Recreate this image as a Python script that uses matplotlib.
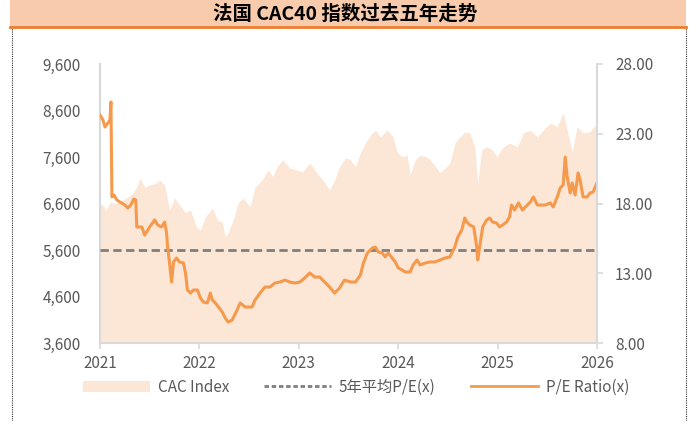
import matplotlib.pyplot as plt
import matplotlib.ticker as mticker
from matplotlib.patches import Rectangle
from matplotlib.lines import Line2D

plt.rcParams['font.family'] = ['Noto Sans CJK SC', 'DejaVu Sans']

# CAC index (left axis), x in decimal years
cac_t = [2021.00, 2021.03, 2021.06, 2021.10, 2021.17, 2021.25, 2021.32, 2021.37, 2021.40,
         2021.45, 2021.50, 2021.55, 2021.60, 2021.65, 2021.70, 2021.75, 2021.80, 2021.86,
         2021.91, 2021.97, 2022.01, 2022.06, 2022.13, 2022.18, 2022.23, 2022.26, 2022.29,
         2022.34, 2022.39, 2022.44, 2022.51, 2022.56, 2022.63, 2022.69, 2022.74, 2022.78,
         2022.84, 2022.91, 2022.98, 2023.04, 2023.11, 2023.18, 2023.24, 2023.31, 2023.36,
         2023.41, 2023.47, 2023.52, 2023.57, 2023.62, 2023.67, 2023.72, 2023.77, 2023.82,
         2023.89, 2023.95, 2023.99, 2024.04, 2024.09, 2024.12, 2024.17, 2024.22, 2024.29,
         2024.35, 2024.42, 2024.47, 2024.52, 2024.57, 2024.62, 2024.67, 2024.72, 2024.77,
         2024.80, 2024.84, 2024.89, 2024.95, 2024.99, 2025.05, 2025.12, 2025.20, 2025.26,
         2025.33, 2025.40, 2025.46, 2025.53, 2025.60, 2025.66, 2025.70, 2025.75, 2025.80,
         2025.86, 2025.93, 2026.00]
cac_v = [6570, 6570, 6450, 6630, 6600, 6700, 6800, 6955, 7150,
         6950, 7000, 7020, 7100, 7000, 6460, 6720, 6570, 6400,
         6460, 6100, 6030, 6310, 6500, 6250, 6200, 5880, 5970,
         6250, 6610, 6720, 6530, 6950, 7100, 7320, 7180, 7390,
         7540, 7360, 7320, 7280, 7470, 7260, 7110, 6890, 7110,
         7390, 7580, 7540, 7390, 7690, 7900, 8070, 8180, 8030,
         8180, 8030, 7710, 7600, 7640, 7210, 7540, 7640, 7600,
         7470, 7260, 7360, 7470, 7900, 8030, 8140, 8120, 7820,
         7040, 7750, 7820, 7750, 7600, 7800, 7900, 7820, 8120,
         8180, 8030, 8180, 8330, 8250, 8550, 8180, 7710, 8250,
         8120, 8140, 8330]

# P/E ratio (right axis)
pe_t = [2021.00, 2021.03, 2021.05, 2021.08, 2021.10, 2021.11, 2021.12, 2021.14, 2021.17,
        2021.20, 2021.25, 2021.28, 2021.31, 2021.34, 2021.36, 2021.37, 2021.42, 2021.45,
        2021.50, 2021.55, 2021.58, 2021.62, 2021.65, 2021.67, 2021.68, 2021.70, 2021.72,
        2021.74, 2021.77, 2021.80, 2021.84, 2021.86, 2021.88, 2021.91, 2021.94, 2021.98,
        2022.01, 2022.04, 2022.08, 2022.11, 2022.13, 2022.16, 2022.20, 2022.23, 2022.26,
        2022.29, 2022.33, 2022.37, 2022.41, 2022.46, 2022.53, 2022.56, 2022.61, 2022.66,
        2022.71, 2022.76, 2022.81, 2022.86, 2022.91, 2022.96, 2023.01, 2023.06, 2023.11,
        2023.16, 2023.21, 2023.26, 2023.31, 2023.36, 2023.41, 2023.46, 2023.52, 2023.57,
        2023.62, 2023.65, 2023.69, 2023.74, 2023.77, 2023.80, 2023.84, 2023.87, 2023.90,
        2023.94, 2023.97, 2024.00, 2024.04, 2024.07, 2024.12, 2024.15, 2024.19, 2024.22,
        2024.27, 2024.32, 2024.37, 2024.42, 2024.47, 2024.52, 2024.57, 2024.60, 2024.64,
        2024.67, 2024.69, 2024.72, 2024.76, 2024.79, 2024.80, 2024.82, 2024.85, 2024.89,
        2024.92, 2024.95, 2024.99, 2025.02, 2025.05, 2025.09, 2025.12, 2025.14, 2025.17,
        2025.21, 2025.25, 2025.28, 2025.33, 2025.36, 2025.40, 2025.43, 2025.48, 2025.53,
        2025.56, 2025.60, 2025.63, 2025.66, 2025.68, 2025.70, 2025.73, 2025.75, 2025.78,
        2025.81, 2025.83, 2025.86, 2025.90, 2025.93, 2025.96, 2026.00]
pe_v = [24.34, 23.99, 23.48, 23.77, 23.99, 25.28, 18.47, 18.61, 18.25,
        18.11, 17.89, 17.68, 17.89, 18.32, 18.25, 16.32, 16.32, 15.74,
        16.32, 16.82, 16.46, 16.32, 16.67, 15.88, 14.88, 13.73, 12.37,
        13.81, 14.09, 13.81, 13.73, 13.02, 11.80, 11.58, 11.80, 11.80,
        11.23, 10.94, 10.87, 11.58, 11.08, 10.87, 10.51, 10.22, 9.79,
        9.50, 9.65, 10.22, 10.87, 10.58, 10.58, 11.08, 11.58, 12.01,
        12.01, 12.30, 12.37, 12.51, 12.37, 12.30, 12.37, 12.66, 13.02,
        12.73, 12.73, 12.37, 12.01, 11.58, 11.94, 12.51, 12.37, 12.37,
        12.87, 13.73, 14.45, 14.81, 14.88, 14.52, 14.45, 14.17, 14.45,
        14.09, 13.81, 13.38, 13.23, 13.09, 13.09, 13.59, 13.95, 13.59,
        13.73, 13.81, 13.81, 13.95, 14.09, 14.17, 14.88, 15.60, 16.10,
        16.96, 16.67, 16.46, 16.32, 14.88, 13.95, 14.88, 16.32, 16.82,
        16.96, 16.67, 16.60, 16.32, 16.46, 16.67, 17.03, 17.89, 17.53,
        18.04, 17.53, 17.75, 18.11, 18.47, 17.89, 17.89, 17.89, 18.04,
        17.75, 18.47, 19.11, 19.33, 21.33, 19.90, 18.75, 19.47, 18.61,
        20.19, 19.68, 18.47, 18.47, 18.75, 18.82, 19.47]

pe_avg = 14.7
years = [2021, 2022, 2023, 2024, 2025, 2026]

grey_txt = '#595959'
axis_col = '#D9D9D9'

fig = plt.figure(figsize=(6.91, 4.21), dpi=100)
ax = fig.add_axes([100 / 691, 1 - 343 / 421, 497 / 691, 279 / 421])
ax2 = ax.twinx()

ax.fill_between(cac_t, 3600, cac_v, color='#FCE6D6', lw=0, label='CAC Index')
ax2.axhline(pe_avg, color='#7F7F7F', lw=2, dashes=(3, 1.6), label='5年平均P/E(x)')
ax2.plot(pe_t, pe_v, color='#F59A4C', lw=2.2, label='P/E Ratio(x)')

ax.set_xlim(2021, 2026)
ax.set_ylim(3600, 9600)
ax.set_yticks(range(3600, 9601, 1000))
ax.yaxis.set_major_formatter(mticker.StrMethodFormatter('{x:,.0f}'))
ax2.set_ylim(8, 28)
ax2.set_yticks([8, 13, 18, 23, 28])
ax2.yaxis.set_major_formatter(mticker.FormatStrFormatter('%.2f'))
ax.set_xticks(years)
ax.set_xticklabels([str(y) for y in years])

for a in (ax, ax2):
    for s in a.spines.values():
        s.set_visible(False)
ax.spines['left'].set_visible(True)
ax.spines['bottom'].set_visible(True)
ax2.spines['right'].set_visible(True)
for s in (ax.spines['left'], ax.spines['bottom'], ax2.spines['right']):
    s.set_color(axis_col)
    s.set_linewidth(1.5)

ax.tick_params(axis='y', length=0, pad=14, labelsize=11, labelcolor=grey_txt)
ax.tick_params(axis='x', length=4, width=1.2, color=axis_col, pad=5,
               labelsize=11, labelcolor=grey_txt)
ax2.tick_params(axis='y', length=4, width=1.2, color=axis_col, pad=9,
                labelsize=11, labelcolor=grey_txt)

# legend
handles = [Rectangle((0, 0), 1, 1, color='#FCE6D6', lw=0),
           Line2D([], [], color='#7F7F7F', lw=2, dashes=(1.6, 1)),
           Line2D([], [], color='#F59A4C', lw=2)]
labels = ['CAC Index', '5年平均P/E(x)', 'P/E Ratio(x)']
fig.legend(handles, labels, loc='center', bbox_to_anchor=(356 / 691, 1 - 387 / 421),
           ncol=3, frameon=False, fontsize=11, handlelength=4.4, handletextpad=0.5,
           columnspacing=2.3, labelcolor=grey_txt)

# title band
fig.patches.append(Rectangle((10 / 691, 1 - 27 / 421), 676 / 691, 27 / 421,
                             transform=fig.transFigure, facecolor='#F8CBAD',
                             edgecolor='none', zorder=0))
fig.lines.append(Line2D([10 / 691, 686 / 691], [1 - 27 / 421] * 2, transform=fig.transFigure,
                        color='#ED7D31', lw=2))
for xx in (12 / 691, 686 / 691):
    fig.lines.append(Line2D([xx, xx], [0, 1 - 28 / 421], transform=fig.transFigure,
                            color='#333333', lw=0.8, ls=(0, (1, 1))))
fig.text(345 / 691, 1 - 14 / 421, '法国 CAC40 指数过去五年走势', ha='center', va='center',
         fontsize=14, fontweight='bold', color='black')

fig.savefig('out.png', dpi=100)
